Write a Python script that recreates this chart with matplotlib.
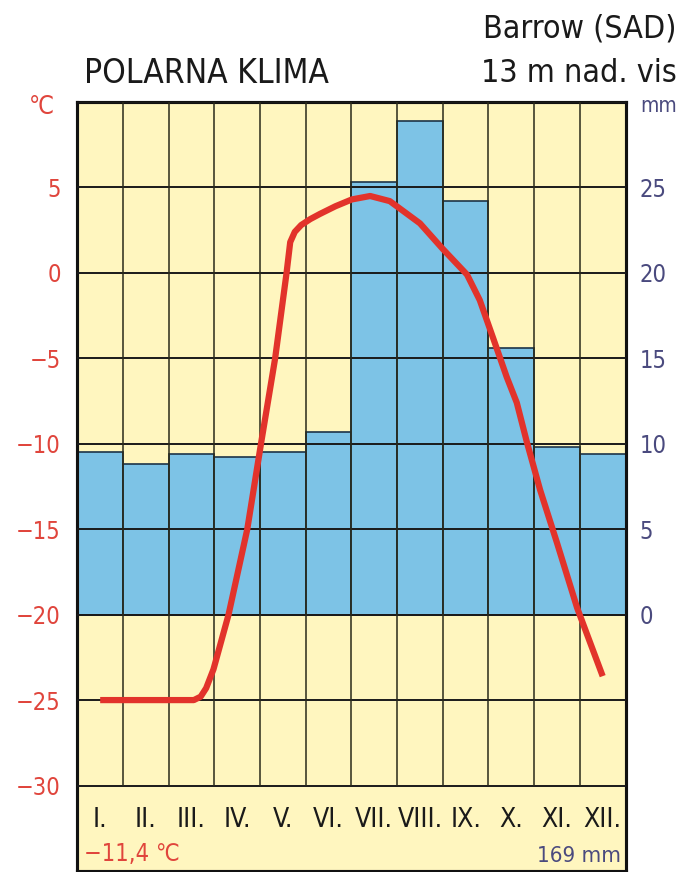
import matplotlib
matplotlib.use("Agg")
import matplotlib.pyplot as plt
from matplotlib import font_manager as fm

# ---------------- data ----------------
months = ["I.", "II.", "III.", "IV.", "V.", "VI.", "VII.", "VIII.", "IX.", "X.", "XI.", "XII."]
precip_mm = [9.5, 8.8, 9.4, 9.2, 9.5, 10.7, 25.3, 28.9, 24.2, 15.6, 9.8, 9.4]
# temperature curve (month position, degC)
curve_x = [0.50, 1.50, 2.55, 2.70, 2.82, 2.98, 3.31, 3.72, 4.02, 4.33, 4.58, 4.66, 4.76, 4.90,
           5.10, 5.31, 5.65, 6.01, 6.41, 6.84, 7.50, 8.00, 8.53, 8.81, 9.10, 9.40, 9.62, 9.84,
           10.13, 10.50, 10.94, 11.22, 11.50]
curve_t = [-25.0, -25.0, -25.0, -24.8, -24.3, -23.2, -20.0, -15.0, -10.0, -5.0, 0.0, 1.8, 2.4, 2.8,
           3.15, 3.45, 3.9, 4.3, 4.5, 4.2, 2.9, 1.4, -0.1, -1.6, -3.8, -6.1, -7.6, -9.9,
           -12.7, -15.8, -19.6, -21.6, -23.6]
temp_ticks = [5, 0, -5, -10, -15, -20, -25, -30]
precip_ticks = [0, 5, 10, 15, 20, 25]
title = "POLARNA KLIMA"
station = "Barrow (SAD)"
altitude = "13 m nad. vis"
mean_temp = "\u221211,4 \u2103"
total_precip = "169 mm"

# ---------------- fonts ----------------
cands = [f for f in fm.fontManager.ttflist
         if ("Condensed" in f.fname or "Narrow" in f.fname or f.stretch in ("condensed", "semi-condensed"))
         and not any(k in f.fname for k in ("Bold", "Oblique", "Italic", "Light", "Black", "Medium", "Thin", "Semi"))]
cands.sort(key=lambda f: (0 if "DejaVuSansCondensed" in f.fname else 1, f.fname))
if cands:
    cond = fm.FontProperties(fname=cands[0].fname)
else:
    cond = fm.FontProperties(family="DejaVu Sans")


def fp(size):
    p = cond.copy()
    p.set_size(size)
    return p


YELLOW = "#fff6bf"
BLUE = "#7dc3e6"
RED = "#e2332b"
LRED = "#e0453c"
SLATE = "#4a4a7e"
GRID = "#1a1a1a"

fig = plt.figure(figsize=(6.88, 8.72), dpi=100)
ax2 = fig.add_axes([0.1124, 0.0012, 0.7968, 0.8818])
ax = ax2.twinx()
ax.set_zorder(ax2.get_zorder() + 1)
ax.patch.set_visible(False)
ax2.patch.set_visible(True)
ax2.set_facecolor(YELLOW)

# temperature axis (-35..10) and precip axis (-15..30): 1 degC == 1 mm, 0 mm at -20 degC
ax.set_ylim(-35, 10)
ax2.set_ylim(-15, 30)
ax.set_xlim(0, 12)
ax2.set_xlim(0, 12)

xs = [i + 0.5 for i in range(12)]
ax2.bar(xs, precip_mm, width=1.0, bottom=0, color=BLUE, edgecolor="#1d3448",
        linewidth=1.2, zorder=2)

# grid
ax.hlines(temp_ticks + [10], 0, 12, colors=GRID, linewidth=1.4, zorder=3)
ax.vlines(range(1, 12), -30, 10, colors="#2a2a1a", linewidth=1.1, zorder=3)

# temperature curve
ax.plot(curve_x, curve_t, color=RED, linewidth=4.5, solid_capstyle="butt",
        solid_joinstyle="round", zorder=5)

# ticks: temperature on left, precip on right
ax.yaxis.tick_left()
ax2.yaxis.tick_right()
ax.set_yticks(temp_ticks)
ax.set_yticklabels([str(t).replace("-", "\u2212") for t in temp_ticks], color=LRED,
                   fontproperties=fp(17))
ax2.set_yticks(precip_ticks)
ax2.set_yticklabels([str(p) for p in precip_ticks], color=SLATE, fontproperties=fp(17))
ax.tick_params(axis="y", length=0, pad=12)
ax2.tick_params(axis="y", length=0, pad=10)
ax.set_xticks([])
ax2.set_xticks([])
for a in (ax, ax2):
    for s in a.spines.values():
        s.set_linewidth(2.2)
        s.set_color("#111111")

# month labels inside the frame
for x, m in zip(xs, months):
    ax.text(x, -32.0, m, ha="center", va="center", fontproperties=fp(19), color="#1a1a1a",
            zorder=6)
ax.text(0.15, -34.0, mean_temp, ha="left", va="center", fontproperties=fp(17), color=LRED,
        zorder=6)
ax.text(11.9, -34.1, total_precip, ha="right", va="center", fontproperties=fp(16),
        color=SLATE, zorder=6)

# unit labels
fig.text(0.06, 0.877, "\u2103", ha="center", va="center", fontproperties=fp(18), color=LRED)
fig.text(0.93, 0.879, "mm", ha="left", va="center", fontproperties=fp(15), color=SLATE)

# titles
fig.text(0.122, 0.916, title, ha="left", va="center", fontproperties=fp(24), color="#1a1a1a")
fig.text(0.983, 0.967, station, ha="right", va="center", fontproperties=fp(23), color="#1a1a1a")
fig.text(0.983, 0.916, altitude, ha="right", va="center", fontproperties=fp(23), color="#1a1a1a")

fig.savefig("out.png", dpi=100)
